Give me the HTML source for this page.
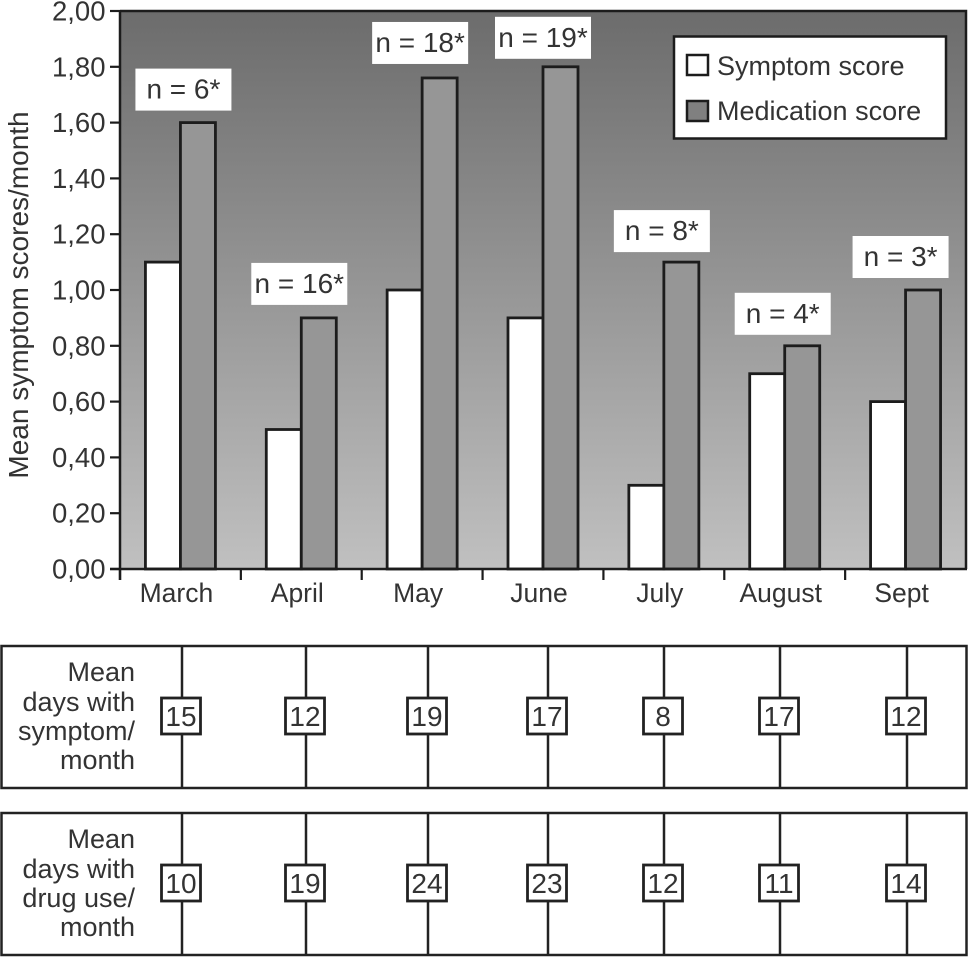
<!DOCTYPE html>
<html lang="en">
<head>
<meta charset="utf-8">
<title>Mean symptom scores per month</title>
<style>
html,body{margin:0;padding:0;background:#fff;}
svg{display:block;}
text{font-family:"Liberation Sans",sans-serif;fill:#333;font-size:27px;}
</style>
</head>
<body>
<svg id="chart" xmlns="http://www.w3.org/2000/svg" width="968" height="957" viewBox="0 0 968 957">
  <defs>
    <linearGradient id="plotGradient" x1="0" y1="0" x2="0" y2="1">
      <stop offset="0" stop-color="#6c6c6c"/>
      <stop offset="1" stop-color="#c0c0c0"/>
    </linearGradient>
  </defs>
  <rect x="120" y="11" width="846" height="558" fill="url(#plotGradient)"/>
  <path d="M120 11H966V569" fill="none" stroke="#1c1c1c" stroke-width="2.500"/>
  <g id="bars"></g>
  <g id="labels"></g>
  <g id="axes"></g>
  <text transform="translate(28,295) rotate(-90)" text-anchor="middle" style="font-size:28px">Mean symptom scores/month</text>

  <g>
    <rect x="674" y="36.500" width="272" height="102" fill="#fff" stroke="#1c1c1c" stroke-width="2.500"/>
    <rect x="687" y="55" width="21" height="20" fill="#fff" stroke="#1c1c1c" stroke-width="2.500"/>
    <text x="717" y="75">Symptom score</text>
    <rect x="687" y="101" width="21" height="20" fill="#808080" stroke="#1c1c1c" stroke-width="2.500"/>
    <text x="717" y="120">Medication score</text>
  </g>

  <g>
    <rect x="1.500" y="646" width="965" height="142" fill="#fff" stroke="#222" stroke-width="2.500"/>
    <text text-anchor="end">
      <tspan x="135" y="681">Mean</tspan><tspan x="135" y="711">days with</tspan><tspan x="135" y="740">symptom/</tspan><tspan x="135" y="769">month</tspan>
    </text>
    <g class="cell s" transform="translate(182,0)"></g>
    <g class="cell s" transform="translate(306,0)"></g>
    <g class="cell s" transform="translate(428,0)"></g>
    <g class="cell s" transform="translate(548,0)"></g>
    <g class="cell s" transform="translate(664,0)"></g>
    <g class="cell s" transform="translate(780,0)"></g>
    <g class="cell s" transform="translate(907,0)"></g>
  </g>
  <g>
    <rect x="1.500" y="813" width="965" height="142" fill="#fff" stroke="#222" stroke-width="2.500"/>
    <text text-anchor="end">
      <tspan x="135" y="848">Mean</tspan><tspan x="135" y="878">days with</tspan><tspan x="135" y="907">drug use/</tspan><tspan x="135" y="936">month</tspan>
    </text>
    <g class="cell d" transform="translate(182,0)"></g>
    <g class="cell d" transform="translate(306,0)"></g>
    <g class="cell d" transform="translate(428,0)"></g>
    <g class="cell d" transform="translate(548,0)"></g>
    <g class="cell d" transform="translate(664,0)"></g>
    <g class="cell d" transform="translate(780,0)"></g>
    <g class="cell d" transform="translate(907,0)"></g>
  </g>
</svg>
<script>
const months = ['March', 'April', 'May', 'June', 'July', 'August', 'Sept'];
const symptomScores = [1.1, 0.5, 1.0, 0.9, 0.3, 0.7, 0.6];
const medicationScores = [1.6, 0.9, 1.76, 1.8, 1.1, 0.8, 1.0];
const sampleSizes = [6, 16, 18, 19, 8, 4, 3];
const yTicks = [0, 0.2, 0.4, 0.6, 0.8, 1.0, 1.2, 1.4, 1.6, 1.8, 2.0];
const symptomDays = [15, 12, 19, 17, 8, 17, 12];
const drugDays = [10, 19, 24, 23, 12, 11, 14];

const NS = 'http://www.w3.org/2000/svg';
const PLOT = { left: 120, right: 966, top: 11, bottom: 569 };
const bandWidth = (PLOT.right - PLOT.left) / months.length;
const barWidth = 35;
const yScale = v => PLOT.bottom - (v / 2) * (PLOT.bottom - PLOT.top);
const bandCenter = i => PLOT.left + bandWidth * (i + 0.5);
/* annotation placement relative to each bar, as offset in the original figure */
const labelShift = [[3, 12], [-2, 13], [-2, 14], [0, 8], [-2, 10], [-2, 11], [-5, 12]];

function make(tag, attrs, parent, txt) {
  const el = document.createElementNS(NS, tag);
  for (const k in attrs) el.setAttribute(k, attrs[k]);
  if (txt !== undefined) el.textContent = txt;
  parent.appendChild(el);
  return el;
}

const barsG = document.getElementById('bars');
const labelsG = document.getElementById('labels');
const axesG = document.getElementById('axes');

months.forEach((m, i) => {
  const cx = bandCenter(i);
  const a = make('rect', { x: cx - barWidth, y: yScale(symptomScores[i]), width: barWidth, height: PLOT.bottom - yScale(symptomScores[i]), fill: '#fff', stroke: '#1c1c1c', 'stroke-width': 2.8 }, barsG);
  
  
  const b = make('rect', { x: cx, y: yScale(medicationScores[i]), width: barWidth, height: PLOT.bottom - yScale(medicationScores[i]), fill: '#969696', stroke: '#1c1c1c', 'stroke-width': 2.8 }, barsG);
  
  

  const labelBottom = yScale(medicationScores[i]) - labelShift[i][1];
  const labelCenter = cx + labelShift[i][0];
  const boxWidth = 96;
  const box = make('rect', { x: labelCenter - boxWidth / 2, y: labelBottom - 42, width: boxWidth, height: 42, fill: '#fff' }, labelsG);
  
  
  const t = make('text', { x: labelCenter, y: labelBottom - 12, 'text-anchor': 'middle', style: 'font-size:28px' }, labelsG, 'n = ' + sampleSizes[i] + '*');
  
  

  const tick = make('line', { x1: PLOT.left + bandWidth * i, x2: PLOT.left + bandWidth * i, y1: PLOT.bottom, y2: PLOT.bottom + 11, stroke: '#1c1c1c', 'stroke-width': 2.2 }, axesG);
  
  
  const lab = make('text', { x: cx - 4, y: 602, 'text-anchor': 'middle', style: 'font-size:26.500px' }, axesG, m);
  
  
});

yTicks.forEach(v => {
  const y = yScale(v);
  const tick = make('line', { x1: PLOT.left - 10, x2: PLOT.left, y1: y, y2: y, stroke: '#1c1c1c', 'stroke-width': 2.2 }, axesG);
  
  
  const lab = make('text', { x: 105.5, y: y + 9.5, 'text-anchor': 'end', style: 'font-size:27.500px' }, axesG, v.toFixed(2).replace('.', ','));
  
  
});

const axisY = make('line', { x1: PLOT.left, x2: PLOT.left, y1: PLOT.top - 1, y2: PLOT.bottom + 11, stroke: '#1c1c1c', 'stroke-width': 2.5 }, axesG);


const axisX = make('line', { x1: PLOT.left - 10, x2: PLOT.right + 1, y1: PLOT.bottom, y2: PLOT.bottom, stroke: '#1c1c1c', 'stroke-width': 2.5 }, axesG);



function fillCells(selector, values, top, prefix) {
  const height = 142;
  document.querySelectorAll(selector).forEach((g, i) => {
    
    
    const mid = top + height / 2;
    const line = make('line', { x1: 0, x2: 0, y1: top, y2: top + height, stroke: '#222', 'stroke-width': 2.5 }, g);
    
    
    const r = make('rect', { x: -20.5, y: mid - 19, width: 39, height: 36, fill: '#fff', stroke: '#222', 'stroke-width': 2.8 }, g);
    
    
    const t = make('text', { x: -1, y: mid + 9, 'text-anchor': 'middle', style: 'font-size:28px' }, g, values[i]);
    
    
  });
}
fillCells('.cell.s', symptomDays, 646, 'symptom-days');
fillCells('.cell.d', drugDays, 813, 'drug-days');
</script>
</body>
</html>
